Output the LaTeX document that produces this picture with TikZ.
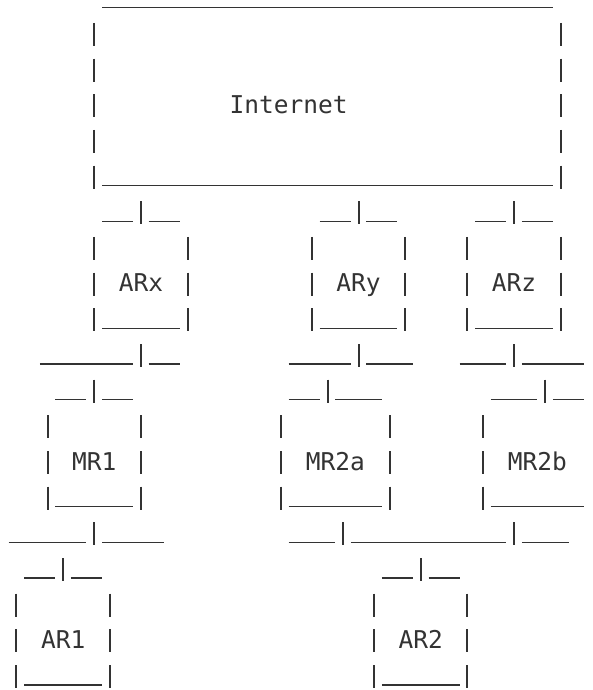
\documentclass[tikz,border=0pt]{standalone}
\usepackage{fontspec}
\newfontfamily\asciimono{DejaVu Sans Mono}
\definecolor{ink}{HTML}{333333}
\tikzset{
  useg/.style={draw=ink, line width=1.4pt},
  pseg/.style={draw=ink, line width=2pt},
  lbl/.style={text=ink, font=\asciimono\fontsize{24.5}{24.5}\selectfont, anchor=base, inner sep=0pt}
}
\newcommand\myh[3]{\draw[useg] ([xshift=-7.775pt]#2,#1) -- ([xshift=7.775pt]#3,#1);}
\newcommand\myv[2]{\draw[pseg] ([yshift=20pt]#2,#1) -- ([yshift=-3pt]#2,#1);}
\begin{document}
\begin{tikzpicture}[x=15.55pt, y=-35.67pt]
\fill[white] ([xshift=-16.5pt,yshift=7.3pt]0,0) rectangle ([xshift=575.5pt,yshift=-682.7pt]0,0);
\useasboundingbox ([xshift=-16.5pt,yshift=7.3pt]0,0) rectangle ([xshift=575.5pt,yshift=-682.7pt]0,0);
% Internet box
\myh{0}{6}{34}
\foreach \r in {1,2,3,4,5} {\myv{\r}{5}\myv{\r}{35}}
\myh{5}{6}{34}
\node[lbl] (internet) at ([yshift=1pt]17.5,3) {Internet};
% row 6
\myh{6}{6}{7}\myv{6}{8}\myh{6}{9}{10}
\myh{6}{20}{21}\myv{6}{22}\myh{6}{23}{24}
\myh{6}{30}{31}\myv{6}{32}\myh{6}{33}{34}
% AR boxes
\foreach \r in {7,8,9} {\myv{\r}{5}\myv{\r}{11}\myv{\r}{19}\myv{\r}{25}\myv{\r}{29}\myv{\r}{35}}
\myh{9}{6}{10}\myh{9}{20}{24}\myh{9}{30}{34}
\node[lbl] (arx) at ([yshift=1pt]8,8) {ARx};
\node[lbl] (ary) at ([yshift=1pt]22,8) {ARy};
\node[lbl] (arz) at ([yshift=1pt]32,8) {ARz};
% row 10
\myh{10}{2}{7}\myv{10}{8}\myh{10}{9}{10}
\myh{10}{18}{21}\myv{10}{22}\myh{10}{23}{25}
\myh{10}{29}{31}\myv{10}{32}\myh{10}{33}{36}
% row 11
\myh{11}{3}{4}\myv{11}{5}\myh{11}{6}{7}
\myh{11}{18}{19}\myv{11}{20}\myh{11}{21}{23}
\myh{11}{31}{33}\myv{11}{34}\myh{11}{35}{36}
% MR boxes
\foreach \r in {12,13,14} {\myv{\r}{2}\myv{\r}{8}\myv{\r}{17}\myv{\r}{24}\myv{\r}{30}}
\myh{14}{3}{7}\myh{14}{18}{23}\myh{14}{31}{36}
\node[lbl] (mr1) at ([yshift=1pt]5,13) {MR1};
\node[lbl] (mr2a) at ([yshift=1pt]20.5,13) {MR2a};
\node[lbl] (mr2b) at ([yshift=1pt]33.5,13) {MR2b};
% row 15
\myh{15}{0}{4}\myv{15}{5}\myh{15}{6}{9}
\myh{15}{18}{20}\myv{15}{21}\myh{15}{22}{31}\myv{15}{32}\myh{15}{33}{35}
% row 16
\myh{16}{1}{2}\myv{16}{3}\myh{16}{4}{5}
\myh{16}{24}{25}\myv{16}{26}\myh{16}{27}{28}
% AR1, AR2 boxes
\foreach \r in {17,18,19} {\myv{\r}{0}\myv{\r}{6}\myv{\r}{23}\myv{\r}{29}}
\myh{19}{1}{5}\myh{19}{24}{28}
\node[lbl] (ar1) at ([yshift=1pt]3,18) {AR1};
\node[lbl] (ar2) at ([yshift=1pt]26,18) {AR2};
\end{tikzpicture}
\end{document}
